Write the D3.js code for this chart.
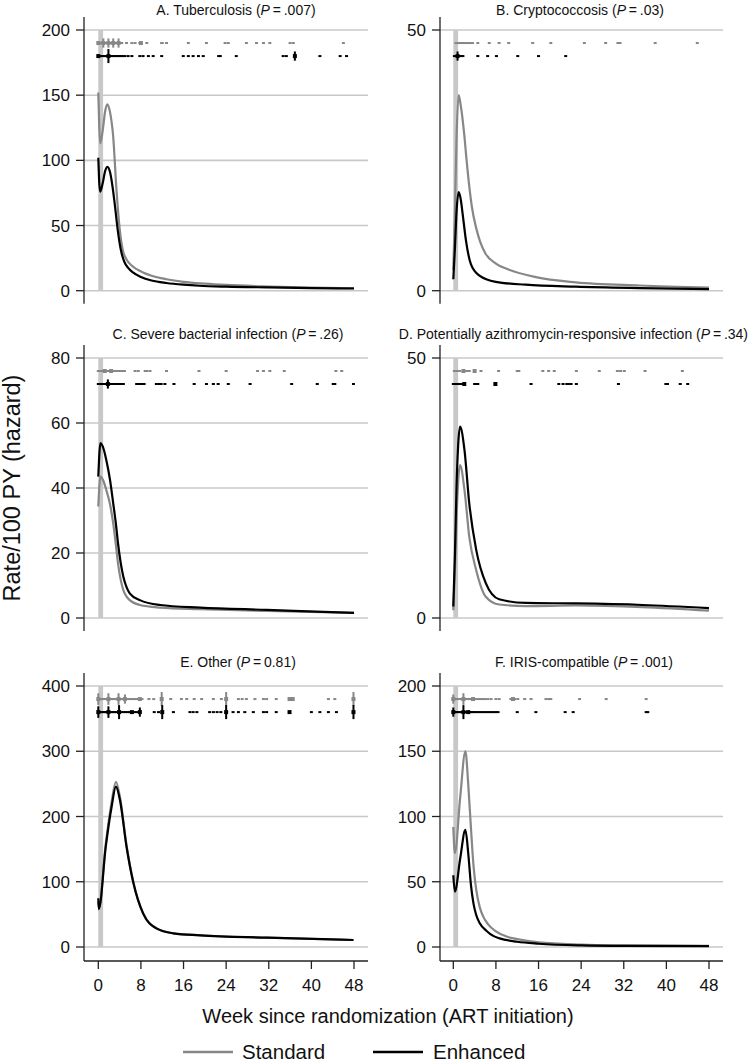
<!DOCTYPE html>
<html>
<head>
<meta charset="utf-8">
<script src="https://cdn.jsdelivr.net/npm/d3@7"></script>
<style>
  html, body { margin: 0; padding: 0; background: #ffffff; }
  svg { display: block; font-family: "Liberation Sans", Arial, Helvetica, sans-serif; }
</style>
</head>
<body>
<svg id="chart" width="752" height="1063"></svg>
<script>
// ---------------- DATA ----------------
const weekTicks = [0, 8, 16, 24, 32, 40, 48];
const panelLetters = ["A", "B", "C", "D", "E", "F"];
const panelNames = ["Tuberculosis", "Cryptococcosis", "Severe bacterial infection",
  "Potentially azithromycin-responsive infection", "Other", "IRIS-compatible"];
const panelP = [".007", ".03", ".26", ".34", "0.81", ".001"];
const yMaxes = [200, 50, 80, 50, 400, 200];
const yTicksA = [0, 50, 100, 150, 200];
const yTicksB = [0, 50];
const yTicksC = [0, 20, 40, 60, 80];
const yTicksD = [0, 50];
const yTicksE = [0, 100, 200, 300, 400];
const yTicksF = [0, 50, 100, 150, 200];
const rugLevelStd = [190, 47.5, 76, 47.5, 380, 190];
const rugLevelEnh = [180, 45, 72, 45, 360, 180];
const seriesNames = ["Standard", "Enhanced"];

// hazard curves [week, rate per 100 PY]
const stdA = [[0,152],[0.15,130],[0.35,113],[0.8,122],[1.3,138],[1.7,143],[2.2,137],[2.8,118],[3.4,78],[4.0,48],[4.6,31],[5.3,24],[6.2,19.5],[7.2,16.5],[8.4,14],[10,11.5],[12.8,8.8],[16,6.8],[20,5.4],[24,4.4],[32,3.2],[40,2.4],[48,1.9]];
const enhA = [[0,102],[0.15,85],[0.35,76],[0.8,82],[1.3,92],[1.7,95],[2.2,91],[2.7,79],[3.1,66],[3.7,45],[4.3,30],[4.9,22],[5.6,17.5],[6.5,14],[8,10.5],[10,7.8],[12.8,5.9],[16,4.6],[19,3.8],[24,3.1],[32,2.5],[40,2.0],[48,1.7]];
const stdB = [[0,4],[0.3,15],[0.6,29],[1.0,37.5],[1.4,35.5],[2.0,30.5],[2.5,25],[3.0,20],[3.5,16],[4.3,12],[5,9.5],[6,7.2],[8,5.2],[10,4.2],[15.5,2.6],[23,1.6],[35,1.0],[48,0.6]];
const enhB = [[0,2.2],[0.3,8],[0.6,15],[1.0,18.9],[1.4,17.5],[1.76,14.7],[2.38,9.6],[3.3,5.1],[4.9,2.9],[8,1.7],[13.6,1.15],[23,0.77],[35,0.5],[48,0.3]];
const stdC = [[0,34.3],[0.4,43.5],[1.0,42],[1.5,39.4],[2.2,35],[2.8,29.1],[3.3,22.5],[3.7,16.8],[4.2,11.8],[4.7,8.6],[5.3,6.6],[5.9,5.5],[7.8,4],[11.6,3.2],[19.1,2.7],[31.6,2.15],[48,1.6]];
const enhC = [[0,43.5],[0.4,53.8],[1.0,52],[1.5,48.6],[2.2,42.5],[2.8,35.3],[3.3,29],[3.7,23],[4.2,17],[4.7,12.7],[5.3,9.5],[5.9,7.6],[7.8,5.5],[11.6,4.0],[19.1,3.2],[31.6,2.5],[48,1.6]];
const stdD = [[0,1.5],[0.3,9],[0.6,19],[0.9,26],[1.27,29.4],[2.1,24.6],[3.0,15.6],[4.3,9.2],[6.1,4.1],[8.6,2.6],[13.6,2.3],[23,2.4],[35.5,2.1],[48,1.4]];
const enhD = [[0,2.2],[0.3,12],[0.6,25],[0.9,33],[1.27,36.8],[2.1,32.3],[3.0,22],[4.3,13.1],[6.1,6.7],[8.6,3.6],[13.6,2.9],[23,2.8],[35.5,2.5],[48,1.9]];
const stdE = [[0,70],[0.1,60],[1.4,158],[2.5,222],[3.3,253],[4.07,230],[5.3,156],[6.6,99],[8.4,52],[10.9,29],[14.1,21],[19.1,18],[31.6,14.3],[47.9,10.7]];
const enhE = [[0,74.6],[0.1,58],[1.4,153.7],[2.5,215],[3.3,245.7],[4.07,225],[5.3,153.7],[6.6,97.6],[8.4,51.6],[10.9,28.6],[14.1,21],[19.1,17.9],[31.6,14.3],[47.9,10.7]];
const stdF = [[0,92],[0.3,72],[1.3,115],[2.27,150],[2.8,125],[3.3,92],[3.8,62],[4.3,44],[5.0,30],[5.6,23.5],[6.5,17.5],[8,12],[10,8],[12,6],[16,3.5],[24,1.8],[32,1.2],[48,0.8]];
const enhF = [[0,55],[0.3,42.4],[1.3,68],[2.27,89.7],[2.8,72],[3.3,48],[3.8,33],[4.3,24.5],[5.0,18],[6.2,12.5],[7.5,8.5],[8.7,6.6],[12,4],[16,2.5],[24,1.2],[32,0.8],[48,0.6]];

// event rugs (week of each event; repeated weeks = several events)
const rugStdA = [0,0,0.3,0.6,0.95,0.95,0.95,1.2,1.5,1.9,1.9,1.9,2.2,2.5,2.8,2.8,2.8,3.1,3.4,3.8,3.8,3.8,4.1,4.4,5.3,6.3,6.9,7.8,8.0,8.0,9.1,11.9,12.0,12.8,16.9,20.3,23.8,24.4,27.8,29.7,31,32.2,36,36.6,46];
const rugEnhA = [0,0,0.3,0.6,0.9,1.2,1.5,1.9,1.9,1.9,1.9,1.9,2.2,2.5,2.8,3.1,3.4,3.7,4.0,4.3,4.6,5.0,5.6,6.3,7.8,8.4,9.4,10.3,11.9,15.95,16.9,17.8,18.8,19.7,22.6,22.9,25.9,34.7,35.3,36.9,36.9,36.9,41.6,45.4,46.6];
const rugStdB = [0.5,1.0,1.3,1.6,2.0,2.4,2.8,3.2,3.6,4.6,6.75,8.6,10.4,14.9,18.3,24.6,28.6,30.9,31.3,37.9,45.8];
const rugEnhB = [0.2,0.6,0.8,0.8,0.8,1.1,1.5,1.8,4.6,6.45,8.1,12.1,16,21.1];
const rugStdC = [0,0.4,0.8,1.2,1.2,1.6,2.0,2.4,2.4,2.8,3.2,3.6,4.0,4.4,4.9,6.9,7.5,8.8,9.1,9.7,12.8,18.9,24,29.9,31,32.2,34.9,44.6,45.7];
const rugEnhC = [0,0.3,0.6,0.9,1.2,1.5,1.8,1.8,1.8,2.1,2.4,2.7,3.0,3.3,3.6,3.9,4.2,4.7,7.2,7.7,8.1,8.6,10.9,11.4,11.8,12.5,14.2,18.0,20.3,21.6,22.5,24.4,28.5,36.3,41.1,44.1,44.4,47.9];
const rugStdD = [0.2,0.7,1.2,1.9,1.9,2.5,3.0,4.0,4.0,5.2,8.5,12.0,12.3,16.8,17.9,18.95,23.1,27.4,30.8,31.4,32.1,36.0,43.0];
const rugEnhD = [0,0.3,0.6,0.9,1.2,1.5,1.8,2.06,2.06,4.0,4.3,4.6,7.9,7.9,14.6,19.8,20.6,21.3,21.6,22.1,23.1,31.0,39.9,40.2,42.6,44.0];
const rugStdE = [0,0,0,0,0.3,0.6,0.9,1.2,1.5,1.9,1.9,1.9,1.9,2.2,2.5,2.8,3.1,3.4,3.8,3.8,3.8,3.8,4.1,4.4,4.7,5.0,5.0,5.0,5.4,5.8,6.2,6.6,7.0,7.4,7.8,7.8,8.2,9.5,10.4,11.9,11.9,11.9,11.9,11.9,13.6,15.6,16.6,18.0,19.4,21.6,23.1,24,24,24,24,24,26.3,27.0,27.8,29.4,31.0,31.6,33.4,35.9,35.9,36.5,36.5,43.2,44.4,47.9,47.9,47.9,47.9,47.9];
const rugEnhE = [0,0,0,0,0.3,0.6,0.9,1.2,1.5,1.9,1.9,1.9,1.9,2.2,2.5,2.8,3.1,3.4,3.9,3.9,3.9,3.9,3.9,4.3,4.7,5.1,5.5,5.9,6.3,6.3,6.8,7.2,7.8,7.8,7.8,10.5,11.3,12.0,12.0,12.0,12.0,12.0,14.1,17.2,17.8,18.5,20.9,21.6,22.3,23.0,24,24,24,24,24,25.3,26.3,27.5,29.1,31.0,31.6,33.4,35.9,35.9,40.0,41.6,43.2,44.7,47.9,47.9,47.9,47.9,47.9];
const rugStdF = [0,0,0,0.3,0.6,0.9,1.2,1.5,1.9,1.9,1.9,1.9,2.2,2.5,2.8,3.1,3.4,3.7,3.7,4.0,4.4,4.8,5.2,5.6,6.0,6.5,7.1,8.0,8.6,10.8,11.2,11.2,11.5,12.1,13.4,14.6,17.4,17.9,18.3,23.7,28.7,36.2];
const rugEnhF = [0,0,0,0.3,0.6,0.9,1.2,1.5,1.9,1.9,1.9,1.9,1.9,2.2,2.5,2.8,2.8,3.1,3.4,3.7,4.0,4.4,4.8,5.2,5.6,6.0,6.4,6.8,7.2,7.6,8.0,8.4,12.0,15.5,21.0,22.5,36.2,36.5];

// ---------------- LAYOUT ----------------
const stdColor = "#878787", enhColor = "#000000", gridColor = "#c8c8c8", axisColor = "#222";
const cols = [
  { axisX: 84, x0: 98.3, x48: 354, right: 368 },
  { axisX: 440, x0: 453.3, x48: 709, right: 723 }
];
const rows = [
  { top: 30, zero: 290.7, titleY: 14.5 },
  { top: 358, zero: 618, titleY: 339 },
  { top: 686, zero: 947, titleY: 667 }
];
const titleCenters = [236, 580, 228, 575, 238, 584];

const panels = [
  { ticks: yTicksA, std: stdA, enh: enhA, rugS: rugStdA, rugE: rugEnhA },
  { ticks: yTicksB, std: stdB, enh: enhB, rugS: rugStdB, rugE: rugEnhB },
  { ticks: yTicksC, std: stdC, enh: enhC, rugS: rugStdC, rugE: rugEnhC },
  { ticks: yTicksD, std: stdD, enh: enhD, rugS: rugStdD, rugE: rugEnhD },
  { ticks: yTicksE, std: stdE, enh: enhE, rugS: rugStdE, rugE: rugEnhE },
  { ticks: yTicksF, std: stdF, enh: enhF, rugS: rugStdF, rugE: rugEnhF }
];

const svg = d3.select("#chart");
svg.append("rect").attr("width", 752).attr("height", 1063).attr("fill", "#ffffff");

function drawRug(g, events, level, color, x, y) {
  const counts = d3.rollups(events, v => v.length, d => d);
  const yy = y(level);
  counts.forEach(([w, c]) => {
    const cx = x(w);
    if (c >= 2) {
      g.append("rect").attr("x", cx - 2).attr("y", yy - 2).attr("width", 4).attr("height", 4).attr("fill", color);
    } else {
      g.append("rect").attr("x", cx - 1.5).attr("y", yy - 1).attr("width", 3).attr("height", 2).attr("fill", color);
    }
    if (c >= 3) {
      const h = Math.min(14, 2.4 * c + 2);
      g.append("rect").attr("x", cx - 1).attr("y", yy - h / 2).attr("width", 2).attr("height", h).attr("fill", color);
    }
  });
}

panels.forEach((p, i) => {
  const col = cols[i % 2], row = rows[Math.floor(i / 2)];
  const isBottom = Math.floor(i / 2) === 2;
  const x = d3.scaleLinear().domain([0, 48]).range([col.x0, col.x48]);
  const y = d3.scaleLinear().domain([0, yMaxes[i]]).range([row.zero, row.top]);
  const g = svg.append("g");

  // gridlines
  g.selectAll("line.grid").data(p.ticks).enter().append("line")
    .attr("x1", col.axisX).attr("x2", col.right)
    .attr("y1", d => y(d)).attr("y2", d => y(d))
    .attr("stroke", gridColor).attr("stroke-width", 1.6);

  // baseline band (week 0-1)
  g.append("rect")
    .attr("x", x(0)).attr("width", x(0.9) - x(0))
    .attr("y", y(yMaxes[i])).attr("height", y(0) - y(yMaxes[i]))
    .attr("fill", gridColor);

  // y axis
  const axisBottom = isBottom ? y(0) + 14 : y(0) + 13;
  g.append("line").attr("x1", col.axisX).attr("x2", col.axisX)
    .attr("y1", y(yMaxes[i]) - 13).attr("y2", axisBottom)
    .attr("stroke", axisColor).attr("stroke-width", 1.3);
  g.selectAll("line.yt").data(p.ticks).enter().append("line")
    .attr("x1", col.axisX - 8).attr("x2", col.axisX)
    .attr("y1", d => y(d)).attr("y2", d => y(d))
    .attr("stroke", axisColor).attr("stroke-width", 1.3);
  g.selectAll("text.yl").data(p.ticks).enter().append("text")
    .attr("x", col.axisX - 14).attr("y", d => y(d) + 6)
    .attr("text-anchor", "end").attr("font-size", 17).attr("fill", "#111")
    .text(d => d);

  // x axis for bottom row
  if (isBottom) {
    const ay = y(0) + 14;
    g.append("line").attr("x1", col.axisX).attr("x2", col.right)
      .attr("y1", ay).attr("y2", ay).attr("stroke", axisColor).attr("stroke-width", 1.3);
    g.selectAll("line.xt").data(weekTicks).enter().append("line")
      .attr("x1", d => x(d)).attr("x2", d => x(d))
      .attr("y1", ay).attr("y2", ay + 8)
      .attr("stroke", axisColor).attr("stroke-width", 1.3);
    g.selectAll("text.xl").data(weekTicks).enter().append("text")
      .attr("x", d => x(d)).attr("y", ay + 30)
      .attr("text-anchor", "middle").attr("font-size", 17).attr("fill", "#111")
      .text(d => d);
  }

  // rugs
  drawRug(g, p.rugS, rugLevelStd[i], stdColor, x, y);
  drawRug(g, p.rugE, rugLevelEnh[i], enhColor, x, y);

  // curves
  const line = d3.line().x(d => x(d[0])).y(d => y(d[1])).curve(d3.curveMonotoneX);
  g.append("path").datum(p.std).attr("d", line).attr("fill", "none")
    .attr("stroke", stdColor).attr("stroke-width", 2.2).attr("stroke-linejoin", "round");
  g.append("path").datum(p.enh).attr("d", line).attr("fill", "none")
    .attr("stroke", enhColor).attr("stroke-width", 2.2).attr("stroke-linejoin", "round");

  // title
  const t = g.append("text").attr("x", titleCenters[i]).attr("y", row.titleY)
    .attr("text-anchor", "middle").attr("font-size", 14).attr("fill", "#111");
  t.append("tspan").text(panelLetters[i] + ". " + panelNames[i] + " (");
  t.append("tspan").attr("font-style", "italic").text("P");
  t.append("tspan").text("\u2009=\u2009" + panelP[i] + ")");
  // keep long titles inside the canvas
  const bb = t.node().getBBox();
  if (bb.x + bb.width > 748) {
    t.attr("x", titleCenters[i] - (bb.x + bb.width - 748));
  }
});

// axis titles
svg.append("text")
  .attr("transform", "translate(20,488) rotate(-90)")
  .attr("text-anchor", "middle").attr("font-size", 23.5).attr("fill", "#111")
  .text("Rate/100 PY (hazard)");
svg.append("text").attr("x", 388).attr("y", 1023)
  .attr("text-anchor", "middle").attr("font-size", 20).attr("fill", "#111")
  .text("Week since randomization (ART initiation)");

// legend
const legendItems = [
  { name: seriesNames[0], color: stdColor, x1: 183, x2: 233, tx: 242 },
  { name: seriesNames[1], color: enhColor, x1: 373, x2: 423, tx: 433 }
];
legendItems.forEach(l => {
  svg.append("line").attr("x1", l.x1).attr("x2", l.x2).attr("y1", 1052).attr("y2", 1052)
    .attr("stroke", l.color).attr("stroke-width", 2.5);
  svg.append("text").attr("x", l.tx).attr("y", 1059).attr("font-size", 20.5).attr("fill", "#111").text(l.name);
});
</script>
</body>
</html>
